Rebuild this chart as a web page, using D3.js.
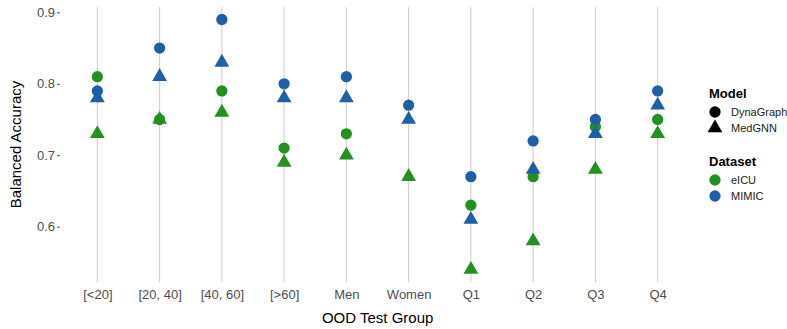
<!DOCTYPE html>
<html>
<head>
<meta charset="utf-8">
<script src="https://cdn.jsdelivr.net/npm/d3@7"></script>
<style>
  html, body { margin: 0; padding: 0; background: #fff; }
  svg { display: block; font-family: "Liberation Sans", Arial, Helvetica, sans-serif; }
</style>
</head>
<body>
<svg id="chart" width="787" height="329"></svg>
<script>
const categories = ["[<20]", "[20, 40]", "[40, 60]", "[>60]", "Men", "Women", "Q1", "Q2", "Q3", "Q4"];
const eicuDynaGraph = [0.81, 0.75, 0.79, 0.71, 0.73, null, 0.63, 0.67, 0.74, 0.75];
const eicuMedGNN    = [0.73, 0.75, 0.76, 0.69, 0.70, 0.67, 0.54, 0.58, 0.68, 0.73];
const mimicDynaGraph = [0.79, 0.85, 0.89, 0.80, 0.81, 0.77, 0.67, 0.72, 0.75, 0.79];
const mimicMedGNN    = [0.78, 0.81, 0.83, 0.78, 0.78, 0.75, 0.61, 0.68, 0.73, 0.77];
const yTicks = [0.6, 0.7, 0.8, 0.9];
const models = ["DynaGraph", "MedGNN"];
const datasets = ["eICU", "MIMIC"];

const colors = { eICU: "#24901f", MIMIC: "#1f5fa6" };
const shapes = { DynaGraph: d3.symbolCircle, MedGNN: d3.symbolTriangle };
const sizes = { DynaGraph: 100, MedGNN: 95 };

const series = [
  { dataset: "eICU", model: "DynaGraph", values: eicuDynaGraph },
  { dataset: "eICU", model: "MedGNN", values: eicuMedGNN },
  { dataset: "MIMIC", model: "DynaGraph", values: mimicDynaGraph },
  { dataset: "MIMIC", model: "MedGNN", values: mimicMedGNN }
];

const svg = d3.select("#chart");
const margin = { left: 60, right: 92, top: 7, bottom: 47 };
const W = 787, H = 329;

const allVals = series.flatMap(s => s.values.filter(v => v != null));
const lo = d3.min(allVals), hi = d3.max(allVals), pad = (hi - lo) * 0.05;

const x = d3.scalePoint().domain(categories).range([margin.left, W - margin.right]).padding(0.6);
const y = d3.scaleLinear().domain([lo - pad, hi + pad]).range([H - margin.bottom, margin.top]);

// vertical grid lines
svg.append("g").selectAll("line").data(categories).join("line")
  .attr("x1", d => x(d)).attr("x2", d => x(d))
  .attr("y1", y.range()[1]).attr("y2", y.range()[0])
  .attr("stroke", "#cccccc").attr("stroke-width", 1);

// y axis
const yAxis = svg.append("g").attr("transform", `translate(${margin.left},0)`)
  .call(d3.axisLeft(y).tickValues(yTicks).tickFormat(d3.format(".1f")).tickSize(3).tickPadding(2));
yAxis.select(".domain").remove();
yAxis.selectAll(".tick line").attr("stroke", "#4d4d4d");
yAxis.selectAll(".tick text").attr("fill", "#4d4d4d").attr("font-size", 13);

// x axis labels
const xAxis = svg.append("g").attr("transform", `translate(0,${H - margin.bottom})`)
  .call(d3.axisBottom(x).tickSize(0).tickPadding(8));
xAxis.select(".domain").remove();
xAxis.selectAll(".tick text").attr("fill", "#4d4d4d").attr("font-size", 13);

// points
series.forEach(s => {
  svg.append("g").selectAll("path")
    .data(categories.map((c, i) => ({ c, v: s.values[i] })).filter(d => d.v != null))
    .join("path")
    .attr("transform", d => `translate(${x(d.c)},${y(d.v)})`)
    .attr("d", d3.symbol().type(shapes[s.model]).size(sizes[s.model]))
    .attr("fill", colors[s.dataset]);
});

// axis titles
svg.append("text").attr("x", x("Women") - 31).attr("y", 323)
  .attr("text-anchor", "middle").attr("font-size", 15).attr("fill", "#000")
  .text("OOD Test Group");
svg.append("text").attr("transform", `translate(21,${(y.range()[0] + y.range()[1]) / 2}) rotate(-90)`)
  .attr("text-anchor", "middle").attr("font-size", 15).attr("fill", "#000")
  .text("Balanced Accuracy");

// legend
const lg = svg.append("g").attr("transform", "translate(709,0)");
lg.append("text").attr("x", 0).attr("y", 98).attr("font-size", 13).attr("font-weight", "bold").text("Model");
models.forEach((m, i) => {
  const cy = 112 + i * 16;
  lg.append("path").attr("transform", `translate(6,${cy})`)
    .attr("d", d3.symbol().type(shapes[m]).size(sizes[m])).attr("fill", "#000");
  lg.append("text").attr("x", 22).attr("y", cy + 4).attr("font-size", 11).attr("fill", "#1a1a1a").text(m);
});
lg.append("text").attr("x", 0).attr("y", 166).attr("font-size", 13).attr("font-weight", "bold").text("Dataset");
datasets.forEach((dname, i) => {
  const cy = 180 + i * 16;
  lg.append("path").attr("transform", `translate(6,${cy})`)
    .attr("d", d3.symbol().type(d3.symbolCircle).size(100)).attr("fill", colors[dname]);
  lg.append("text").attr("x", 22).attr("y", cy + 4).attr("font-size", 11).attr("fill", "#1a1a1a").text(dname);
});
</script>
</body>
</html>
